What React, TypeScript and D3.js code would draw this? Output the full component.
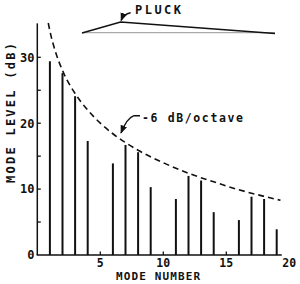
import * as d3 from 'd3';
import React from 'react';

// bars of the plucked-string spectrum (modes 5, 10, 15 missing: pluck at 1/5)
const modeNumbers = [1, 2, 3, 4, 6, 7, 8, 9, 11, 12, 13, 14, 16, 17, 18, 19];
const modeLevels = [29.4, 27.6, 24.1, 17.3, 13.9, 16.7, 15.6, 10.3, 8.5, 12.0, 11.3, 6.5, 5.3, 8.85, 8.5, 3.9];

// dashed envelope
const curveModes = [0.87, 1, 1.5, 2, 3, 4, 5, 6, 8, 10, 12, 14, 16, 18, 19.3];
const curveLevels = [35.2, 34, 30.5, 28, 24.5, 22, 20, 18.4, 15.9, 14, 12.4, 11.1, 9.9, 8.9, 8.3];

const xTickLabels = [5, 10, 15, 20];
const xMinorTicks = [5, 10, 15];
const yTickLabels = [0, 10, 20, 30];
const yTicks = [5, 10, 15, 20, 25, 30];

// string shape inset
const pluckPoint = 0.2;

const W = 300;
const H = 284;
const FONT = "'DejaVu Sans Mono', monospace";
const INK = '#111';

export default function App() {
  const x = d3.scaleLinear().domain([0, 20]).range([37.3, 289.3]);
  const y = d3.scaleLinear().domain([0, 35]).range([255, 24.35]);

  const envelope = d3
    .line<number>()
    .x((d) => x(d))
    .y((_, i) => y(curveLevels[i]))
    .curve(d3.curveMonotoneX)(curveModes);

  // inset: string at rest and plucked
  const sx = d3.scaleLinear().domain([0, 1]).range([82, 275]);
  const sy = d3.scaleLinear().domain([0, 1]).range([33, 22]);
  const pluckLine = d3.line<[number, number]>()
    .x((d) => sx(d[0]))
    .y((d) => sy(d[1]))([[0, 0], [pluckPoint, 1], [1, -0.05]]);

  const peakX = sx(pluckPoint);
  const peakY = sy(1);

  return (
    <svg
      width={W}
      height={H}
      style={{ position: 'absolute', left: 0, top: 0, background: '#fff' }}
      fontFamily={FONT}
      fontWeight="bold"
      fill={INK}
    >
      <defs>
        <marker id="head" viewBox="0 0 10 10" refX="9" refY="5" markerWidth="6" markerHeight="6" orient="auto">
          <path d="M0,1 L10,5 L0,9 z" fill={INK} />
        </marker>
      </defs>

      {/* axes */}
      <line x1={x(0)} x2={x(0)} y1={y(0)} y2={y(35.15)} stroke={INK} strokeWidth={1.5} />
      <line x1={x(0) - 0.7} x2={x(19.4)} y1={y(0)} y2={y(0)} stroke={INK} strokeWidth={1.5} />

      {yTicks.map((t) => (
        <line key={t} x1={x(0)} x2={x(0) + 3.5} y1={y(t)} y2={y(t)} stroke={INK} strokeWidth={1.3} />
      ))}
      {yTickLabels.map((t) => (
        <text key={t} x={34.5} y={y(t) + 4.3} fontSize={12} textAnchor="end">
          {t}
        </text>
      ))}

      {xMinorTicks.map((t) => (
        <line key={t} x1={x(t)} x2={x(t)} y1={y(0)} y2={y(0) - 3.5} stroke={INK} strokeWidth={1.3} />
      ))}
      {xTickLabels.map((t) => (
        <text key={t} x={x(t)} y={266.5} fontSize={11.5} textAnchor="middle">
          {t}
        </text>
      ))}

      <text x={116} y={280} fontSize={11} textLength={84} lengthAdjust="spacing">
        MODE NUMBER
      </text>
      <text
        transform="translate(14.5,183) rotate(-90)"
        x={0}
        y={0}
        fontSize={12}
        textLength={140}
        lengthAdjust="spacing"
      >
        MODE LEVEL (dB)
      </text>

      {/* bars */}
      {modeNumbers.map((m, i) => (
        <line
          key={m}
          x1={x(m)}
          x2={x(m)}
          y1={y(0)}
          y2={y(modeLevels[i])}
          stroke={INK}
          strokeWidth={2}
        />
      ))}

      {/* envelope */}
      <path d={envelope || ''} fill="none" stroke={INK} strokeWidth={1.6} strokeDasharray="6 4" />
      <text x={142} y={121.5} fontSize={11.5} textLength={101} lengthAdjust="spacing">
        -6 dB/octave
      </text>
      <path
        d="M140,115.7 L134,115.7 Q127,118 121,133"
        fill="none"
        stroke={INK}
        strokeWidth={1.4}
        markerEnd="url(#head)"
      />

      {/* pluck inset */}
      <line x1={sx(0)} x2={sx(1)} y1={sy(0) - 0.3} y2={sy(0) - 0.3} stroke="#aaa" strokeWidth={1.2} />
      <path d={pluckLine || ''} fill="none" stroke={INK} strokeWidth={1.4} />
      <text x={135} y={13.5} fontSize={12} textLength={46} lengthAdjust="spacing">
        PLUCK
      </text>
      <path
        d={`M${peakX + 10},12.7 Q${peakX + 3},14 ${peakX + 0.5},${peakY - 1.5}`}
        fill="none"
        stroke={INK}
        strokeWidth={1.4}
        markerEnd="url(#head)"
      />
    </svg>
  );
}
